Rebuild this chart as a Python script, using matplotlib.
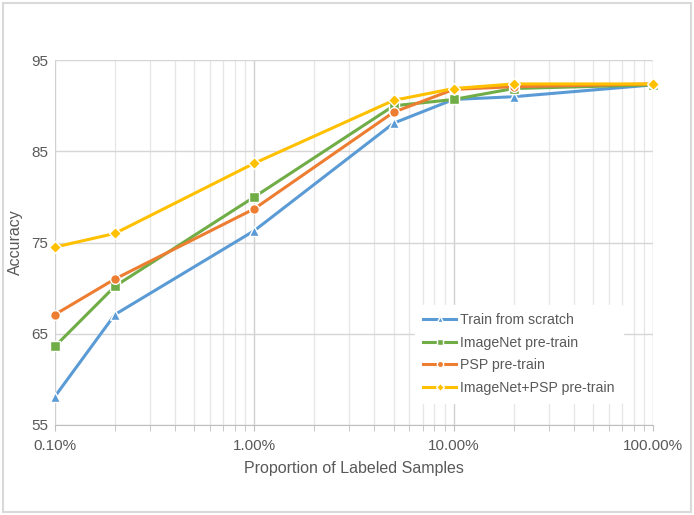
import numpy as np
import matplotlib
matplotlib.use("Agg")
import matplotlib.pyplot as plt
from matplotlib.patches import Rectangle
from matplotlib.ticker import FixedLocator, LogLocator, NullFormatter

# proportion of labeled samples (%)
proportions = [0.1, 0.2, 1, 5, 10, 20, 100]

scratch = [58.1, 67.1, 76.3, 88.1, 90.7, 91.0, 92.3]
imagenet = [63.6, 70.2, 80.0, 90.0, 90.7, 91.9, 92.3]
psp = [67.1, 71.0, 78.7, 89.3, 91.8, 92.1, 92.4]
imagenet_psp = [74.5, 76.0, 83.7, 90.6, 91.9, 92.4, 92.4]

labels = ["Train from scratch", "ImageNet pre-train", "PSP pre-train",
          "ImageNet+PSP pre-train"]
x_ticks = [0.1, 1, 10, 100]
x_ticklabels = ["0.10%", "1.00%", "10.00%", "100.00%"]
y_ticks = [55, 65, 75, 85, 95]

plt.rcParams['font.family'] = ['Liberation Sans', 'DejaVu Sans']
txt = '#595959'

fig = plt.figure(figsize=(6.94, 5.15), dpi=100)
ax = fig.add_axes([0.079, 0.175, 0.862, 0.708])

series = [
    (scratch, '#5B9BD5', '^', 7),
    (imagenet, '#70AD47', 's', 7),
    (psp, '#ED7D31', 'o', 7),
    (imagenet_psp, '#FFC000', 'D', 6),
]
for (vals, col, mk, ms), lab in zip(series, labels):
    ax.plot(proportions, vals, color=col, lw=2.2, marker=mk, ms=ms,
            mfc=col, mec='white', mew=1.0, label=lab, zorder=3,
            clip_on=False)

ax.set_xscale('log')
ax.set_xlim(0.1, 100)
ax.set_ylim(55, 95)
ax.xaxis.set_major_locator(FixedLocator(x_ticks))
ax.set_xticklabels(x_ticklabels)
ax.xaxis.set_minor_locator(LogLocator(base=10, subs=np.arange(2, 10)))
ax.xaxis.set_minor_formatter(NullFormatter())
ax.set_yticks(y_ticks)

ax.grid(which='major', axis='x', color='#d0d0d0', lw=1.0)
ax.grid(which='minor', axis='x', color='#e6e6e6', lw=0.9)
ax.grid(which='major', axis='y', color='#d6d6d6', lw=1.0)
ax.set_axisbelow(True)

for s in ['top', 'left', 'right']:
    ax.spines[s].set_visible(False)
ax.spines['bottom'].set_color('#bfbfbf')

ax.tick_params(axis='y', length=0, labelsize=11, labelcolor=txt, pad=5)
ax.tick_params(axis='x', which='major', length=4, color='#bfbfbf',
               labelsize=11, labelcolor=txt, pad=6)
ax.tick_params(axis='x', which='minor', length=4, color='#bfbfbf')

ax.set_xlabel('Proportion of Labeled Samples', fontsize=11.5, color=txt,
              labelpad=6)
ax.set_ylabel('Accuracy', fontsize=11.5, color=txt, labelpad=6)

leg = ax.legend(loc='lower right', bbox_to_anchor=(0.962, 0.04),
                frameon=True, fontsize=10.2, handlelength=2.3,
                handletextpad=0.3, markerscale=0.65, labelspacing=0.6,
                borderpad=0.6)
leg.get_frame().set_edgecolor('white')
leg.get_frame().set_facecolor('white')
leg.get_frame().set_alpha(1)
for t in leg.get_texts():
    t.set_color(txt)

fig.patches.append(Rectangle((0.004, 0.006), 0.991, 0.988,
                             transform=fig.transFigure, fill=False,
                             ec='#d9d9d9', lw=1.5))

fig.savefig('out.png', dpi=100)
